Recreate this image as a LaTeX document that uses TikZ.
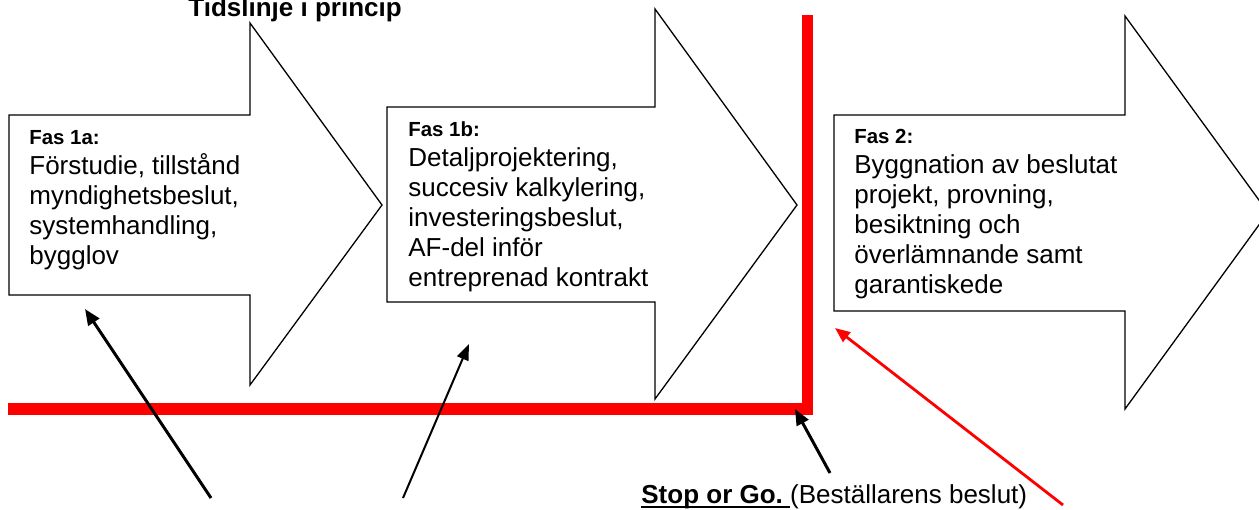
\documentclass[tikz,border=0pt]{standalone}
\usepackage{fontspec}
\setmainfont{Liberation Sans}
\usetikzlibrary{arrows.meta}
\tikzset{
  bigarrow/.style={draw=black, line width=0.65pt, fill=white, line join=miter},
  redline/.style={draw=red, line width=5.6pt, line join=miter},
  txt/.style={inner sep=0pt, anchor=base west, align=left},
  pointer/.style={draw=black, line width=1.5pt, -{Triangle[length=8pt,width=6.5pt]}},
  thinpointer/.style={draw=black, line width=1pt, -{Triangle[length=8pt,width=6pt]}},
  redpointer/.style={draw=red, line width=1.4pt, -{Triangle[length=7.5pt,width=6pt]}},
}
\newcommand{\headfont}{\fontsize{10.2}{12}\selectfont\bfseries}
\newcommand{\bodyfont}{\fontsize{13}{15}\selectfont}
\newcommand{\myul}[1]{\setbox0\hbox{#1}\rlap{\rule[-2.4pt]{\wd0}{0.75pt}}\box0}
\begin{document}
\begin{tikzpicture}[x=0.5pt,y=-0.5pt]
\useasboundingbox (0,0) rectangle (1259,509);
\clip (0,0) rectangle (1259,509);
% big arrows
\draw[bigarrow] (9,115) -- (250,115) -- (250,23) -- (382,205) -- (250,385) -- (250,295) -- (9,295) -- cycle;
\draw[bigarrow] (387,107) -- (655,107) -- (655,9) -- (797,205) -- (655,399) -- (655,302) -- (387,302) -- cycle;
\draw[bigarrow] (834,115) -- (1125,115) -- (1125,16) -- (1268,212.5) -- (1125,409) -- (1125,311) -- (834,311) -- cycle;
% title
\node[txt, font=\bodyfont\bfseries] (title) at (188,16.5) {Tidslinje i princip};
% phase texts
\node[txt] (fas1a) at (29,144) {\bodyfont\begin{tabular}[t]{@{}l@{}}{\headfont Fas 1a:}\\Förstudie, tillstånd\\myndighetsbeslut,\\systemhandling,\\bygglov\end{tabular}};
\node[txt] (fas1b) at (408,136) {\bodyfont\begin{tabular}[t]{@{}l@{}}{\headfont Fas 1b:}\\Detaljprojektering,\\succesiv kalkylering,\\investeringsbeslut,\\AF-del inför\\entreprenad kontrakt\end{tabular}};
\node[txt] (fas2) at (854,143.3) {\bodyfont\begin{tabular}[t]{@{}l@{}}{\headfont Fas 2:}\\Byggnation av beslutat\\projekt, provning,\\besiktning och\\överlämnande samt\\garantiskede\end{tabular}};
% red timeline
\coordinate (lineStart) at (8,409);
\coordinate (corner) at (807.5,409);
\coordinate (lineTop) at (807.5,15);
\draw[redline] (lineStart) -- (corner) -- (lineTop);
% bottom label
\node[txt, font=\bodyfont] (stopgo) at (641,503) {\myul{\textbf{Stop or Go.}\ }(Beställarens beslut)};
% pointers
\coordinate (t1) at (211,498); \coordinate (h1) at (85,309);
\coordinate (t2) at (403,498); \coordinate (h2) at (469,344);
\coordinate (t3) at (830,473); \coordinate (h3) at (795,409);
\coordinate (t4) at (1063,505); \coordinate (h4) at (835,328);
\draw[pointer] (t1) -- (h1);
\draw[thinpointer] (t2) -- (h2);
\draw[pointer] (t3) -- (h3);
\draw[redpointer] (t4) -- (h4);
\end{tikzpicture}
\end{document}
